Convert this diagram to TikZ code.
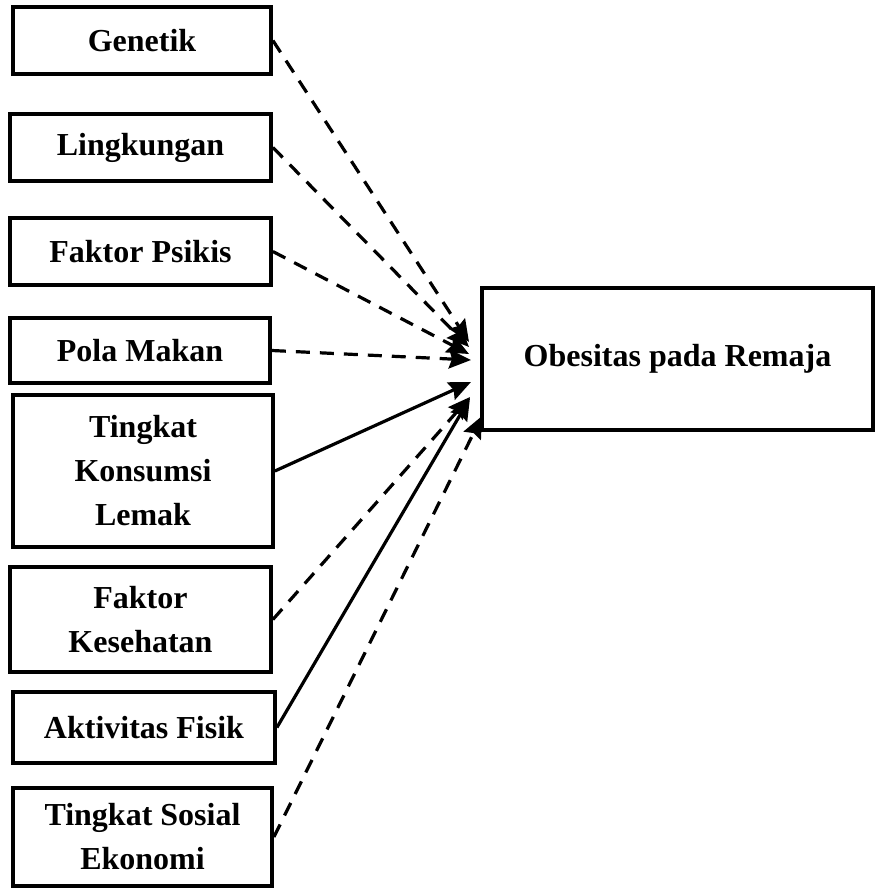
\documentclass[tikz,border=0pt]{standalone}
\usepackage{fontspec}
\setmainfont{Liberation Serif}
\usetikzlibrary{arrows.meta}
\begin{document}
\begin{tikzpicture}[x=0.5pt,y=-0.5pt,
  box/.style={draw=black, line width=1.9pt, fill=white, align=center, inner sep=0pt,
    font=\fontsize{16}{22}\selectfont\bfseries},
  conn/.style={line width=1.6pt, -{Stealth[length=11pt,width=9.5pt,inset=1.5pt]}},
  dsh/.style={conn, dash pattern=on 7pt off 5pt}]
\useasboundingbox (0,0) rectangle (875,890);
\node[box, minimum width=129pt, minimum height=33.5pt] (gen) at (142,40.5) {Genetik};
\node[box, minimum width=130.5pt, minimum height=33.5pt] (lin) at (140.5,147.5) {Lingkungan};
\node[box, minimum width=130.5pt, minimum height=33.5pt] (psi) at (140.5,251.5) {Faktor Psikis};
\node[box, minimum width=130pt, minimum height=32.5pt] (pola) at (140,350.5) {Pola Makan};
\node[box, minimum width=130pt, minimum height=76pt] (tkl) at (143,471) {Tingkat\\Konsumsi\\Lemak};
\node[box, minimum width=130.5pt, minimum height=52.5pt] (kes) at (140.5,619.5) {Faktor\\Kesehatan};
\node[box, minimum width=131pt, minimum height=35.5pt] (akt) at (144,727.5) {Aktivitas Fisik};
\node[box, minimum width=129.5pt, minimum height=49pt] (sos) at (142.5,837) {Tingkat Sosial\\Ekonomi};
\node[box, minimum width=195.5pt, minimum height=71pt] (ob) at (677.5,359) {Obesitas pada Remaja};
\coordinate (t1) at (469,342);
\coordinate (t2) at (469,347);
\coordinate (t3) at (469,354);
\coordinate (t4) at (471,360);
\coordinate (t5) at (471,382);
\coordinate (t6) at (470,397);
\coordinate (t7) at (470,398);
\coordinate (t8) at (482,416);
\draw[dsh] (gen.east) -- (t1);
\draw[dsh] (lin.east) -- (t2);
\draw[dsh] (psi.east) -- (t3);
\draw[dsh] (pola.east) -- (t4);
\draw[conn] (tkl.east) -- (t5);
\draw[dsh] (kes.east) -- (t6);
\draw[conn] (akt.east) -- (t7);
\draw[dsh] (sos.east) -- (t8);
\end{tikzpicture}
\end{document}
